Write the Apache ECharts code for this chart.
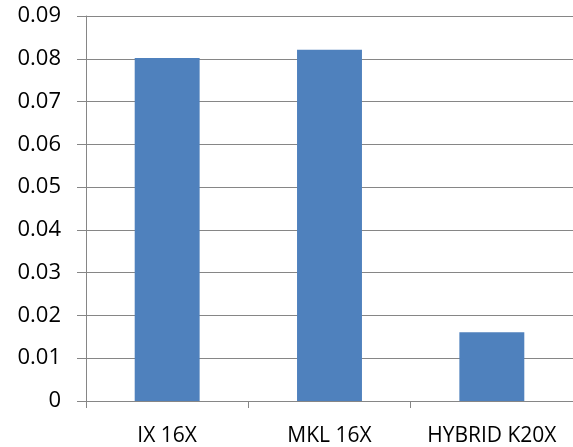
<!DOCTYPE html>
<html>
<head>
<meta charset="utf-8">
<script src="https://cdn.jsdelivr.net/npm/echarts@6/dist/echarts.min.js"></script>
<style>
  html, body { margin: 0; padding: 0; background: #fff; }
  #chart { width: 573px; height: 447px; }
</style>
</head>
<body>
<div id="chart"></div>
<script>
  const categories = ['IX 16X', 'MKL 16X', 'HYBRID K20X'];
  const values = [0.0802, 0.0821, 0.0161];
  const yMin = 0;
  const yMax = 0.09;
  const yStep = 0.01;

  const gray = '#868686';
  const font = '"Open Sans", "Noto Sans", sans-serif';

  const chart = echarts.init(document.getElementById('chart'), null, { renderer: 'canvas' });
  chart.setOption({
    backgroundColor: '#fff',
    animation: false,
    grid: { left: 86, right: 0, top: 16, bottom: 46, containLabel: false },
    xAxis: {
      type: 'category',
      data: categories,
      axisLine: { lineStyle: { color: gray, width: 1 } },
      axisTick: { show: true, interval: 0, length: 7, lineStyle: { color: gray } },
      axisLabel: { color: '#000', fontSize: 21, fontFamily: font, margin: 25, interval: 0 }
    },
    yAxis: {
      type: 'value',
      min: yMin,
      max: yMax,
      interval: yStep,
      axisLine: { show: true, lineStyle: { color: gray, width: 1 } },
      axisTick: { show: true, length: 9, lineStyle: { color: gray } },
      splitLine: { lineStyle: { color: gray, width: 1 } },
      axisLabel: {
        color: '#000', fontSize: 22, fontFamily: font, margin: 25,
        formatter: v => v === 0 ? '0' : v.toFixed(2)
      }
    },
    series: [{
      type: 'bar',
      data: values,
      barWidth: '40%',
      itemStyle: { color: '#4F81BD' }
    }]
  });
</script>
</body>
</html>
